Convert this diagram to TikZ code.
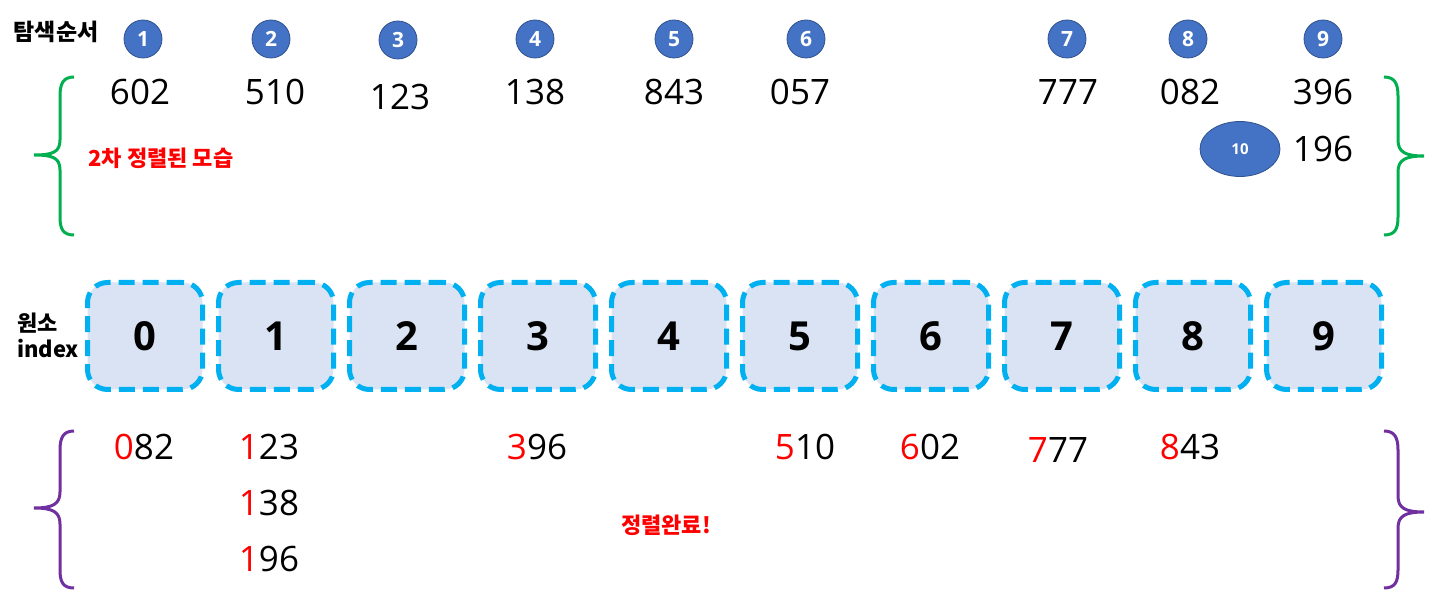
\documentclass[tikz,border=0pt]{standalone}
\usepackage{fontspec}
\setmainfont{Open Sans}
\newfontfamily\kr{Noto Sans CJK KR}
\usetikzlibrary{positioning,shapes.geometric}
\definecolor{order}{HTML}{4472C4}
\definecolor{orderline}{HTML}{2F528F}
\definecolor{cellfill}{HTML}{DAE3F3}
\definecolor{cellline}{HTML}{00B0F0}
\definecolor{hilite}{HTML}{FF0000}
\definecolor{topbrace}{HTML}{00B050}
\definecolor{botbrace}{HTML}{7030A0}
\newcommand{\hd}[1]{\textcolor{hilite}{#1}}

\begin{document}
\begin{tikzpicture}[x=0.5pt,y=-0.5pt,node distance=28pt,on grid,
   ord/.style={circle,draw=orderline,fill=order,minimum size=19pt,inner sep=0pt,text=white,font=\fontsize{10.5}{12}\selectfont\bfseries},
   val/.style={inner sep=1pt,font=\fontsize{17.5}{20}\selectfont},
   cell/.style={rectangle,rounded corners=10pt,draw=cellline,fill=cellfill,line width=2.5pt,dash pattern=on 8pt off 4pt,minimum width=57.5pt,minimum height=53.5pt,font=\fontsize{20}{22}\selectfont\bfseries},
   lbl/.style={font=\kr\fontsize{11.5}{13}\selectfont\bfseries},
   note/.style={font=\kr\fontsize{11}{13}\selectfont\bfseries,text=hilite},
   brace/.style={line width=1.5pt}]
   \useasboundingbox (0,0) rectangle (1435,608);

   \node[lbl] (order) at (56,32) {탐색순서};
   \node[ord] (s1) at (143,39)  {1};
   \node[ord] (s2) at (271,39)  {2};
   \node[ord] (s3) at (398,40)  {3};
   \node[ord] (s4) at (535,39)  {4};
   \node[ord] (s5) at (674,39)  {5};
   \node[ord] (s6) at (806,39)  {6};
   \node[ord] (s7) at (1067,39) {7};
   \node[ord] (s8) at (1188,39) {8};
   \node[ord] (s9) at (1323,39) {9};

   \node[val] (v1) at (140,92)  {602};
   \node[val] (v2) at (275,92)  {510};
   \node[val] (v3) at (400,97)  {123};
   \node[val] (v4) at (535,92)  {138};
   \node[val] (v5) at (674,92)  {843};
   \node[val] (v6) at (800,92)  {057};
   \node[val] (v7) at (1068,92) {777};
   \node[val] (v8) at (1190,92) {082};
   \node[val] (v9) at (1323,92) {396};
   \node[val] (v10) [below=28.5pt of v9] {196};
   \node[ellipse,draw=orderline,fill=order,minimum width=40pt,minimum height=27.5pt,inner sep=0pt,text=white,font=\fontsize{7.5}{9}\selectfont\bfseries]
      (s10) [left=41.5pt of v10] {10};
   \node[note] (second) at (161,158) {2차 정렬된 모습};

   \node[lbl,align=left,font=\kr\fontsize{11}{13}\selectfont\bfseries] (index) at (48,335) {원소\\index};
   \node[cell] (c0) at (145,336)  {0};
   \node[cell] (c1) at (276,336)  {1};
   \node[cell] (c2) at (407,336)  {2};
   \node[cell] (c3) at (538,336)  {3};
   \node[cell] (c4) at (669,336)  {4};
   \node[cell] (c5) at (800,336)  {5};
   \node[cell] (c6) at (931,336)  {6};
   \node[cell] (c7) at (1062,336) {7};
   \node[cell] (c8) at (1193,336) {8};
   \node[cell] (c9) at (1324,336) {9};

   \node[val] (r0)  at (144,447)  {\hd{0}82};
   \node[val] (r1a) at (269,447)  {\hd{1}23};
   \node[val] (r1b) [below=of r1a] {\hd{1}38};
   \node[val] (r1c) [below=of r1b] {\hd{1}96};
   \node[val] (r3)  at (537,447)  {\hd{3}96};
   \node[val] (r5)  at (805,447)  {\hd{5}10};
   \node[val] (r6)  at (930,447)  {\hd{6}02};
   \node[val] (r7)  at (1058,450) {\hd{7}77};
   \node[val] (r8)  at (1190,447) {\hd{8}43};
   \node[note] (done) at (666,525) {정렬완료!};

   \draw[brace,topbrace] (74,77) .. controls (63,77) and (60,84) .. (60,96) -- (60,140)
      .. controls (60,152) and (53,155) .. (34,155) .. controls (53,155) and (60,158) .. (60,170)
      -- (60,217) .. controls (60,229) and (63,235) .. (74,235);
   \draw[brace,topbrace] (1384,77) .. controls (1395,77) and (1398,84) .. (1398,96) -- (1398,140)
      .. controls (1398,152) and (1405,156) .. (1424,156) .. controls (1405,156) and (1398,160) .. (1398,172)
      -- (1398,217) .. controls (1398,229) and (1395,235) .. (1384,235);
   \draw[brace,botbrace] (74,431) .. controls (63,431) and (60,438) .. (60,450) -- (60,492)
      .. controls (60,504) and (53,508) .. (34,508) .. controls (53,508) and (60,512) .. (60,524)
      -- (60,570) .. controls (60,582) and (63,588) .. (74,588);
   \draw[brace,botbrace] (1384,431) .. controls (1395,431) and (1398,438) .. (1398,450) -- (1398,496)
      .. controls (1398,508) and (1405,512) .. (1424,512) .. controls (1405,512) and (1398,516) .. (1398,528)
      -- (1398,570) .. controls (1398,582) and (1395,588) .. (1384,588);
\end{tikzpicture}
\end{document}
